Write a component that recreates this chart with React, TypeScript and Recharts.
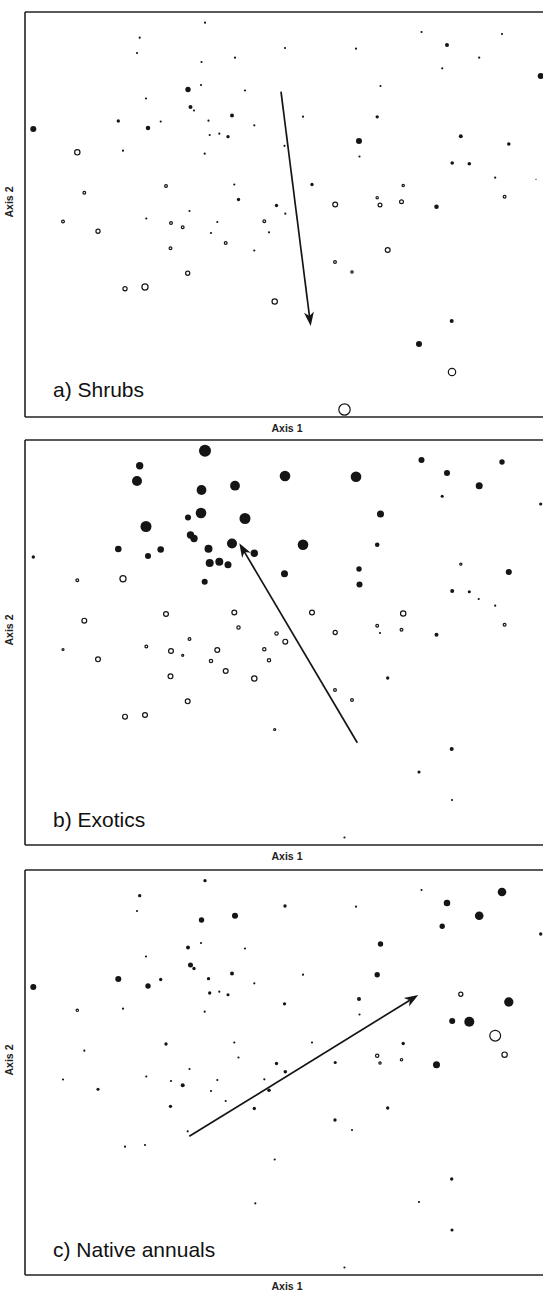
import { Label, ReferenceDot, ReferenceLine, Scatter, ScatterChart, XAxis, YAxis, ZAxis } from "recharts";

// site scores on the two ordination axes (same sites in every panel)
const siteX = [
  180, 114.7, 112, 176.5, 210, 176, 163, 220, 121, 165.5,
  169, 207, 93.3, 135.7, 183.5, 8.3, 123, 229.3, 184.7, 194.3,
  203, 52.3, 98, 179.7, 59.3, 141, 209.3, 213.5, 251.5, 164.5,
  38, 121.3, 73, 146, 157.7, 192.3, 186, 200.7, 145.5, 239.3,
  244, 229.3, 162.7, 100, 120, 249.7, 396.5, 477, 260, 331,
  422, 454.2, 417.2, 515.7, 355.5, 278, 352.2, 334, 435.8, 483.8,
  259.5, 334.5, 427.2, 444.3, 453.7, 470.2, 511, 287, 378.2, 310.2,
  352.2, 355, 376.5, 411.5, 479.6, 260.3, 362.7, 310, 327, 426.7,
  394, 427, 319.5, 230.3,
];
const siteY = [
  394.3, 379.3, 364, 355, 359.3, 332, 327.5, 326.5, 318.5, 310,
  306.5, 301.5, 296, 295.5, 296.3, 288, 289, 291.7, 282, 283.3,
  280.3, 264.7, 266.3, 263.3, 224.3, 231, 232.5, 217.5, 211.5, 206,
  195.5, 198.5, 185.7, 194, 189.7, 195, 184, 174, 168.7, 195.7,
  184.7, 166.5, 143.7, 128.3, 130, 115.5, 385, 383, 369, 368.3,
  372, 359.3, 348.7, 341, 331, 300.3, 300.2, 276, 280.8, 273,
  271.2, 260.5, 254, 253.2, 246, 239.3, 237.7, 232.5, 231.5, 212.5,
  219.3, 212, 215.3, 210.2, 220.3, 203.3, 167, 155, 145, 96,
  73, 45, 7.5, 71.7,
];

// symbol size ~ value; negative = open symbol
const shrubs = [
  3, 3, 3, 3, 3, 3, 18, 3, 3, 10,
  3, 10, 7, 3, 3, 23, 13, 3, 3, 3,
  7, -27, 3, 3, -10, -10, 3, 7, 7, 3,
  -10, 3, -18, -10, -10, 3, 3, -10, -10, -10,
  3, 3, -18, -18, -34, -27, 3, 3, 3, 3,
  10, 3, 3, 23, 3, 3, 7, 23, 10, 8,
  3, 3, 8, 8, 0, 3, 1, 7, -8, -23,
  -8, -16, -16, 13, -10, 3, -23, -10, -8, 10,
  23, -46, -100, 0,
];
const exotics = [
  91, 34, 63, 60, 60, 71, 23, 76, 76, 34,
  34, 63, 27, 27, 40, 7, 23, 34, 40, 40,
  31, -10, -34, 23, -23, -23, -23, -13, -13, -10,
  -6, -10, -23, -23, -6, -23, -13, -23, -23, -13,
  -13, -27, -23, -23, -23, -6, 23, 18, 71, 71,
  23, 31, 6, 6, 31, 71, 13, 18, -7, 23,
  31, 23, 10, 6, 3, 3, 0, -23, -27, -18,
  -10, 3, -10, 10, -10, -23, 7, -10, -10, 10,
  6, 3, 3, 0,
];
const nativeAnnuals = [
  7, 7, 3, 18, 23, 3, 10, 3, 3, 16,
  7, 10, 23, 7, 7, 23, 18, 3, 7, 3,
  6, -8, 3, 3, 3, 7, 3, 3, 7, 3,
  3, 3, 6, 3, 10, 3, 3, 3, 7, 3,
  8, 7, 3, 3, 3, 3, 3, 47, 7, 3,
  27, 47, 18, 7, 18, 3, 18, 10, -18, 55,
  7, 3, 23, 63, 0, -91, 0, 3, 7, 6,
  -13, -8, -8, 31, -27, 8, 7, 7, 3, 7,
  3, 6, 3, 3,
];

// joint-plot vectors: [tail, head]
const shrubArrow = [{ x: 256, y: 325.3 }, { x: 285.7, y: 91 }];
const exoticArrow = [{ x: 332.3, y: 102.3 }, { x: 214.3, y: 301.7 }];
const nativeArrow = [{ x: 164.3, y: 138.7 }, { x: 393.3, y: 280 }];

const FONT = "'Liberation Sans', Arial, sans-serif";
const INK = "#151515";

function Symbol(props: any) {
  const { cx, cy, size, payload } = props;
  if (!size) return <g />;
  const r = Math.sqrt(size / Math.PI);
  if (payload.open) {
    return <circle cx={cx} cy={cy} r={Math.max(r - 0.6, 1)} fill="#fff" stroke={INK} strokeWidth={1.2} />;
  }
  return <circle cx={cx} cy={cy} r={r} fill={INK} />;
}

function Arrow(props: any) {
  const { x1, y1, x2, y2 } = props;
  const len = Math.hypot(x2 - x1, y2 - y1);
  const ux = (x2 - x1) / len;
  const uy = (y2 - y1) / len;
  const px = -uy;
  const py = ux;
  const L = 14, W = 5, N = 10;
  const bx = x2 - ux * L, by = y2 - uy * L;
  const nx = x2 - ux * N, ny = y2 - uy * N;
  const pts = `${x2},${y2} ${bx + px * W},${by + py * W} ${nx},${ny} ${bx - px * W},${by - py * W}`;
  return (
    <g>
      <line x1={x1} y1={y1} x2={nx} y2={ny} stroke={INK} strokeWidth={1.7} />
      <polygon points={pts} fill={INK} />
    </g>
  );
}

function Panel({ title, values, arrow, titleY, top }: any) {
  const data = siteX.map((x, i) => ({ x, y: siteY[i], z: Math.abs(values[i]), open: values[i] < 0 }));
  return (
    <div style={{ position: "absolute", left: 0, top, width: 552, height: 440 }}>
      <ScatterChart width={552} height={440} margin={{ top: 12, right: 3, bottom: 0, left: 0 }}>
        <XAxis
          type="number"
          dataKey="x"
          domain={[0, 524]}
          tick={false}
          tickLine={false}
          height={23}
          axisLine={{ stroke: "#222", strokeWidth: 1.6 }}
        >
          <Label
            content={({ viewBox }: any) => (
              <text
                x={viewBox.x + viewBox.width / 2}
                y={viewBox.y + 15}
                textAnchor="middle"
                fontSize={10.5}
                fontWeight={700}
                fontFamily={FONT}
                fill="#222"
              >
                Axis 1
              </text>
            )}
          />
        </XAxis>
        <YAxis
          type="number"
          dataKey="y"
          domain={[0, 405]}
          tick={false}
          tickLine={false}
          width={25}
          axisLine={{ stroke: "#222", strokeWidth: 1.6 }}
        >
          <Label
            content={({ viewBox }: any) => (
              <text
                x={9}
                y={viewBox.y + 190}
                transform={`rotate(-90 9 ${viewBox.y + 190})`}
                textAnchor="middle"
                dominantBaseline="central"
                fontSize={10.5}
                fontWeight={700}
                fontFamily={FONT}
                fill="#222"
              >
                Axis 2
              </text>
            )}
          />
        </YAxis>
        <ZAxis type="number" dataKey="z" domain={[0, 100]} range={[0, 125]} />
        <ReferenceLine y={405} stroke="#222" strokeWidth={1.6} />
        <Scatter data={data} shape={Symbol} isAnimationActive={false} />
        <ReferenceLine segment={arrow} shape={Arrow} />
        <ReferenceDot
          x={28}
          y={titleY}
          r={0}
          fill="none"
          stroke="none"
          label={({ viewBox }: any) => (
            <text x={viewBox.x} y={viewBox.y} fontSize={21} fontFamily={FONT} fill="#111">
              {title}
            </text>
          )}
        />
      </ScatterChart>
    </div>
  );
}

export default function App() {
  return (
    <div style={{ position: "absolute", left: 0, top: 0, width: 543, height: 1293, overflow: "hidden", background: "#fff" }}>
      <Panel title="a) Shrubs" values={shrubs} arrow={shrubArrow} titleY={20} top={0} />
      <Panel title="b) Exotics" values={exotics} arrow={exoticArrow} titleY={18} top={428} />
      <Panel title="c) Native annuals" values={nativeAnnuals} arrow={nativeArrow} titleY={18} top={858} />
    </div>
  );
}
